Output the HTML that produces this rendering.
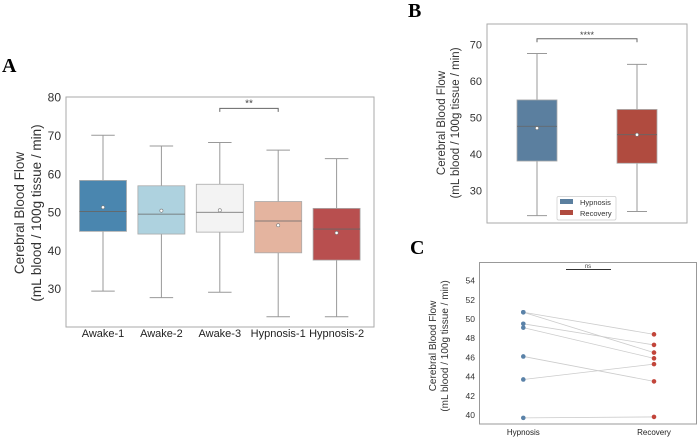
<!DOCTYPE html>
<html><head><meta charset="utf-8"><style>
body{margin:0;background:#fff}
svg{display:block;font-family:"Liberation Sans","DejaVu Sans",sans-serif}
</style></head><body>
<svg id="fig" width="700" height="438" viewBox="0 0 700 438">
<text x="2" y="72" font-family="Liberation Serif,serif" font-weight="bold" font-size="20">A</text>
<text x="408" y="17" font-family="Liberation Serif,serif" font-weight="bold" font-size="20">B</text>
<text x="410" y="254" font-family="Liberation Serif,serif" font-weight="bold" font-size="20">C</text>
<g id="A"></g>
<g id="B"></g>
<g id="C"></g>
</svg>
<script>
// Panel A data
const catsA=["Awake-1","Awake-2","Awake-3","Hypnosis-1","Hypnosis-2"];
const maxA=[70.2,67.4,68.3,66.3,64.1];
const q3A=[58.4,57.0,57.4,52.9,51.1];
const medA=[50.3,49.6,50.1,47.8,45.7];
const q1A=[45.1,44.4,44.9,39.5,37.6];
const minA=[29.5,27.8,29.2,22.8,22.8];
const meanA=[51.4,50.5,50.6,46.7,44.7];
const colA=["#4a86af","#aed2df","#f3f3f3","#e4b49f","#b84f4f"];
const ticksA=[30,40,50,60,70,80];
// Panel B data
const catsB=["Hypnosis","Recovery"];
const maxB=[67.5,64.5];
const q3B=[54.8,52.2];
const medB=[47.6,45.3];
const q1B=[38.1,37.5];
const minB=[23.2,24.3];
const meanB=[47.1,45.3];
const colB=["#5b7f9f","#b04b3f"];
const ticksB=[30,40,50,60,70];
// Panel C data
const hypC=[50.7,50.7,49.5,49.1,46.1,43.7,39.7];
const recC=[48.4,46.5,47.3,45.9,43.5,45.3,39.8];
const ticksC=[40,42,44,46,48,50,52,54];

const NS="http://www.w3.org/2000/svg";
function mk(p,t,a,txt){const e=document.createElementNS(NS,t);for(const k in a)e.setAttribute(k,a[k]);if(txt!==undefined)e.textContent=txt;p.appendChild(e);return e;}

function boxPanel(g,o){
  const {L,R,T,B,y,x,bw,cats,mx,q3,md,q1,mn,mean,col,ticks,fs}=o;
  const fr=mk(g,'rect',{x:L,y:T,width:R-L,height:B-T,fill:'none',stroke:'#aaa','stroke-width':1});
  
  ticks.forEach(t=>{const tl=mk(g,'text',{x:L-5,y:y(t)+4,'text-anchor':'end','font-size':fs,fill:'#333'},t);
    });
  cats.forEach((c,i)=>{const cx=x(i);
    const w=mk(g,'g',{});
    mk(w,'line',{x1:cx,x2:cx,y1:y(mx[i]),y2:y(q3[i]),stroke:'#999'});
    mk(w,'line',{x1:cx,x2:cx,y1:y(q1[i]),y2:y(mn[i]),stroke:'#999'});
    mk(w,'line',{x1:cx-bw/4,x2:cx+bw/4,y1:y(mx[i]),y2:y(mx[i]),stroke:'#999'});
    mk(w,'line',{x1:cx-bw/4,x2:cx+bw/4,y1:y(mn[i]),y2:y(mn[i]),stroke:'#999'});
    mk(w,'rect',{x:cx-bw/2,y:y(q3[i]),width:bw,height:y(q1[i])-y(q3[i]),fill:col[i],stroke:'#aaa','stroke-width':0.8});
    mk(w,'line',{x1:cx-bw/2,x2:cx+bw/2,y1:y(md[i]),y2:y(md[i]),stroke:'#666','stroke-width':0.8});
    mk(w,'circle',{cx:cx,cy:y(mean[i]),r:1.6,fill:'#fff',stroke:'#777','stroke-width':0.6});
  });
}

// Panel A
(function(){
  const g=document.getElementById('A');
  const y=v=>97.7+(80-v)*3.83;
  const x=i=>103+i*58.4;
  boxPanel(g,{L:66,R:374,T:97,B:327,y,x,bw:47,cats:catsA,mx:maxA,q3:q3A,md:medA,q1:q1A,mn:minA,mean:meanA,col:colA,ticks:ticksA,fs:12});
  catsA.forEach((c,i)=>{const t=mk(g,'text',{x:x(i),y:337,'text-anchor':'middle','font-size':11,fill:'#222'},c);
    });
  const by=y(77.2);
  const br=mk(g,'path',{d:`M${x(2)} ${by+3.5}V${by}H${x(3)}V${by+3.5}`,fill:'none',stroke:'#666'});
  
  const st=mk(g,'text',{x:(x(2)+x(3))/2,y:by-2,'text-anchor':'middle','font-size':10,fill:'#444'},'**');
  
  const yt=mk(g,'text',{transform:'translate(24,213) rotate(-90)','text-anchor':'middle','font-size':13.5,fill:'#333'});
  
  mk(yt,'tspan',{x:0,dy:0},'Cerebral Blood Flow');
  mk(yt,'tspan',{x:0,dy:17},'(mL blood / 100g tissue / min)');
})();

// Panel B
(function(){
  const g=document.getElementById('B');
  const y=v=>44.3+(70-v)*3.66;
  const x=i=>537+i*100;
  boxPanel(g,{L:487,R:687,T:24,B:223,y,x,bw:40,cats:catsB,mx:maxB,q3:q3B,md:medB,q1:q1B,mn:minB,mean:meanB,col:colB,ticks:ticksB,fs:11});
  const by=y(71.5);
  const br=mk(g,'path',{d:`M${x(0)} ${by+3.5}V${by}H${x(1)}V${by+3.5}`,fill:'none',stroke:'#666'});
  
  const st=mk(g,'text',{x:587,y:by-1,'text-anchor':'middle','font-size':9,fill:'#444'},'****');
  
  const lg=mk(g,'g',{});
  mk(lg,'rect',{x:557,y:196.5,width:59,height:23.5,fill:'#fff',stroke:'#ccc','stroke-width':0.7,rx:1.5});
  catsB.forEach((c,i)=>{
    const e=mk(lg,'g',{});
    mk(e,'rect',{x:560,y:199+i*11,width:13,height:5,fill:colB[i]});
    mk(e,'text',{x:580,y:205+i*11,'font-size':7.5,fill:'#333'},c);
  });
  const yt=mk(g,'text',{transform:'translate(445,123) rotate(-90)','text-anchor':'middle','font-size':11.5,fill:'#333'});
  
  mk(yt,'tspan',{x:0,dy:0},'Cerebral Blood Flow');
  mk(yt,'tspan',{x:0,dy:14},'(mL blood / 100g tissue / min)');
})();

// Panel C
(function(){
  const g=document.getElementById('C');
  const y=v=>415+(40-v)*9.6;
  const xs=[523.3,654];
  const fr=mk(g,'rect',{x:479.5,y:262.5,width:217,height:161.5,fill:'none',stroke:'#999','stroke-width':1});
  
  ticksC.forEach(t=>{const tl=mk(g,'text',{x:475,y:y(t)+3,'text-anchor':'end','font-size':8.5,fill:'#333'},t);
    });
  hypC.forEach((h,i)=>{const l=mk(g,'line',{x1:xs[0],y1:y(h),x2:xs[1],y2:y(recC[i]),stroke:'#ccc','stroke-width':0.8});
    });
  hypC.forEach(h=>{const c=mk(g,'circle',{cx:xs[0],cy:y(h),r:2.3,fill:'#5a82a8'});
    });
  recC.forEach(r=>{const c=mk(g,'circle',{cx:xs[1],cy:y(r),r:2.3,fill:'#c2453a'});
    });
  ["Hypnosis","Recovery"].forEach((c,i)=>{const t=mk(g,'text',{x:xs[i],y:435,'text-anchor':'middle','font-size':8,fill:'#222'},c);
    });
  const bl=mk(g,'line',{x1:566,x2:611,y1:269.5,y2:269.5,stroke:'#333','stroke-width':1});
  
  const st=mk(g,'text',{x:588,y:268,'text-anchor':'middle','font-size':6,fill:'#444'},'ns');
  
  const yt=mk(g,'text',{transform:'translate(436,346) rotate(-90)','text-anchor':'middle','font-size':10,fill:'#333'});
  
  mk(yt,'tspan',{x:0,dy:0},'Cerebral Blood Flow');
  mk(yt,'tspan',{x:0,dy:12},'(mL blood / 100g tissue / min)');
})();
</script>
</body></html>
